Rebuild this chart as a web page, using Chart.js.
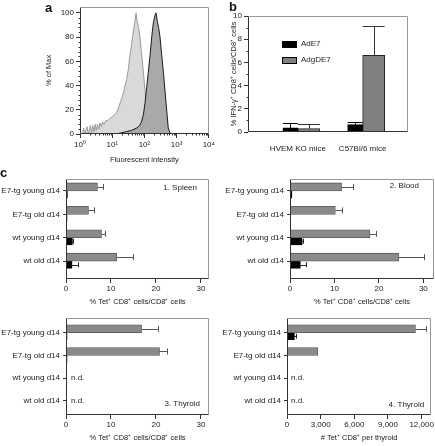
<!DOCTYPE html>
<html>
<head>
<meta charset="utf-8">
<script src="https://cdn.jsdelivr.net/npm/chart.js@4.4.1/dist/chart.umd.min.js"></script>
<style>
  html, body { margin: 0; padding: 0; background: #fff; }
  body { width: 435px; height: 446px; position: relative; overflow: hidden; font-family: "Liberation Sans", Arial, sans-serif; color: #222; }
  canvas { position: absolute; }
  .tag { position: absolute; font-weight: bold; font-size: 13px; line-height: 13px; color: #111; z-index: 2; }
  .key { position: absolute; font-size: 8px; line-height: 8px; display: flex; align-items: center; z-index: 2; }
  .key i { display: inline-block; width: 15px; height: 7px; margin-right: 4px; border: 1px solid #000; box-sizing: border-box; }
</style>
</head>
<body>
<canvas id="chartA" width="217" height="168" style="left:0;top:0"></canvas>
<canvas id="chartB" width="220" height="160" style="left:215px;top:0"></canvas>
<canvas id="chartC1" width="217" height="140" style="left:0;top:170px"></canvas>
<canvas id="chartC2" width="218" height="140" style="left:217px;top:170px"></canvas>
<canvas id="chartC3" width="217" height="136" style="left:0;top:310px"></canvas>
<canvas id="chartC4" width="218" height="136" style="left:217px;top:310px"></canvas>

<div class="tag" style="left:45px;top:1px">a</div>
<div class="tag" style="left:229px;top:0">b</div>
<div class="tag" style="left:0;top:166px">c</div>
<div class="key" style="left:282px;top:40px"><i style="background:#000"></i>AdE7</div>
<div class="key" style="left:282px;top:56px"><i style="background:#808080"></i>AdgDE7</div>

<script>
// a. histogram outlines (intensity, % of max)
const histLightX = [1.2, 1.3, 1.4, 1.65, 1.8, 2.1, 2.25, 2.5, 2.7, 3.0, 3.2, 3.5, 3.8, 4.2, 4.6, 5.0, 5.6, 6.3, 7.2, 8.5, 10, 11.7, 13.8, 15.8, 17.8, 19.5, 22.4, 25, 28, 32, 35, 40, 46, 50, 55, 59, 65, 72, 81, 93, 105, 123, 145, 170, 200, 240];
const histLightY = [0, 5, 0, 6, 0, 7, 1, 7, 2, 8, 3, 8, 4, 9, 6, 10, 8, 11, 11, 13, 14, 16, 18, 22, 26, 29, 34, 40, 45, 54, 64, 74, 86, 92, 100, 93, 89, 81, 67, 51, 35, 18, 9, 5, 2, 0];
const histDarkX = [8, 16, 28, 40, 58, 71, 81, 93, 105, 117, 132, 151, 170, 190, 214, 229, 251, 275, 302, 339, 389, 427, 468, 513, 550, 617, 708];
const histDarkY = [0, 0.5, 2, 3, 5, 7, 10, 16, 26, 38, 51, 66, 81, 92, 98, 100, 93, 88, 81, 67, 51, 38, 26, 14, 5, 1, 0];
const histTicks = [1, 10, 100, 1000, 10000];
const pctTicks = [0, 20, 40, 60, 80, 100];

// b. IFN-gamma+ CD8+ cells
const groupsB = ['HVEM KO mice', 'C57Bl/6 mice'];
const adE7 = [0.35, 0.63];
const adE7Err = [0.42, 0.24];
const adgDE7 = [0.29, 6.6];
const adgDE7Err = [0.42, 2.55];

// c. Tet+ CD8+ cells
const groupsC = ['E7-tg young d14', 'E7-tg old d14', 'wt young d14', 'wt old d14'];
const spleenGray = [7.0, 5.0, 7.9, 11.3];
const spleenGrayErr = [1.3, 1.2, 0.8, 3.7];
const spleenBlack = [0.3, 0.2, 1.4, 1.3];
const spleenBlackErr = [0, 0, 0.2, 1.4];
const bloodGray = [11.6, 10.2, 18.0, 24.5];
const bloodGrayErr = [2.6, 1.6, 1.4, 5.6];
const bloodBlack = [0.4, 0, 2.7, 2.3];
const bloodBlackErr = [0, 0, 0.2, 1.3];
const thyroidGray = [16.8, 20.8, null, null];
const thyroidGrayErr = [3.6, 1.6, 0, 0];
const thyroidBlack = [0.2, 0.2, null, null];
const thyroidCountGray = [11450, 2750, null, null];
const thyroidCountGrayErr = [950, 0, 0, 0];
const thyroidCountBlack = [650, 60, null, null];
const thyroidCountBlackErr = [120, 0, 0, 0];
const pctTicksC = [0, 10, 20, 30];
const countTicks = [0, 3000, 6000, 9000, 12000];

Chart.defaults.font = { family: '"Liberation Sans", Arial, sans-serif', size: 8 };
Chart.defaults.color = '#222';
Chart.defaults.animation = false;

const titleFont = { family: '"Liberation Sans", Arial, sans-serif', size: 7.5 };

// frame, error bars, minor ticks and notes
const framePlugin = {
  id: 'frame',
  afterDraw(chart, args, o) {
    const { ctx, chartArea: a, scales } = chart;
    const L = Math.round(a.left) + 0.5, R = Math.round(a.right) - 0.5;
    const T = Math.round(a.top) + 0.5, B = Math.round(a.bottom) - 0.5;
    ctx.save();
    ctx.lineWidth = 1;

    // error bars
    const horiz = chart.options.indexAxis === 'y';
    const vs = horiz ? scales.x : scales.y;
    chart.data.datasets.forEach((ds, i) => {
      if (!ds.errors) return;
      ctx.strokeStyle = ds.errColor || '#000';
      chart.getDatasetMeta(i).data.forEach((bar, j) => {
        const d = ds.data[j];
        const v = horiz ? d.x : d.y;
        const e = ds.errors[j];
        if (v == null || !e) return;
        const p = bar.getProps(['x', 'y', 'width', 'height'], true);
        const end = Math.round(vs.getPixelForValue(v + e)) + 0.5;
        ctx.beginPath();
        if (horiz) {
          const h = p.height / 2 - 1;
          ctx.moveTo(p.x, Math.round(p.y) + 0.5); ctx.lineTo(end, Math.round(p.y) + 0.5);
          ctx.moveTo(end, p.y - h); ctx.lineTo(end, p.y + h);
        } else {
          const w = p.width / 2;
          const cx = Math.round(p.x) + 0.5;
          ctx.moveTo(cx, p.y); ctx.lineTo(cx, end);
          ctx.moveTo(p.x - w, end); ctx.lineTo(p.x + w, end);
        }
        ctx.stroke();
      });
    });

    // box
    ctx.strokeStyle = '#999';
    ctx.beginPath(); ctx.moveTo(L, T); ctx.lineTo(R, T); ctx.lineTo(R, B); ctx.stroke();
    ctx.strokeStyle = '#333';
    ctx.beginPath(); ctx.moveTo(L, T); ctx.lineTo(L, B); ctx.lineTo(R, B); ctx.stroke();

    // minor ticks
    ctx.beginPath();
    (o.minorY || []).forEach(v => {
      const y = Math.round(scales.y.getPixelForValue(v)) + 0.5;
      ctx.moveTo(L - 2, y); ctx.lineTo(L, y);
    });
    (o.minorX || []).forEach(v => {
      const x = Math.round(scales.x.getPixelForValue(v)) + 0.5;
      ctx.moveTo(x, B); ctx.lineTo(x, B + 2);
    });
    ctx.stroke();

    // notes
    ctx.fillStyle = '#222';
    ctx.font = '8px "Liberation Sans", Arial, sans-serif';
    ctx.textBaseline = 'middle';
    (o.notes || []).forEach(n => {
      if (n.yv !== undefined) {
        ctx.textAlign = 'left';
        ctx.fillText(n.text, a.left + n.dx, scales.y.getPixelForValue(n.yv));
      } else {
        ctx.textAlign = 'right';
        ctx.fillText(n.text, a.right - n.dx, n.top ? a.top + n.dy : a.bottom - n.dy);
      }
    });
    ctx.restore();
  }
};
Chart.register(framePlugin);

// a. histogram
const logMinor = [];
for (let d = 1; d < 10000; d *= 10) for (let k = 2; k < 10; k++) logMinor.push(d * k);

new Chart(document.getElementById('chartA'), {
  type: 'line',
  data: {
    datasets: [
      { data: histDarkX.map((x, i) => ({ x, y: histDarkY[i] })), borderColor: '#1a1a1a', backgroundColor: '#a9a9a9', fill: 'origin', borderWidth: 1, pointRadius: 0, order: 0 },
      { data: histLightX.map((x, i) => ({ x, y: histLightY[i] })), borderColor: '#9a9a9a', backgroundColor: '#d9d9d9', fill: 'origin', borderWidth: 1, pointRadius: 0, order: 1 }
    ]
  },
  options: {
    responsive: false,
    layout: { padding: { left: 40, top: 6, right: 8, bottom: 0 } },
    plugins: { legend: { display: false }, tooltip: { enabled: false }, frame: { minorX: logMinor, minorY: [4, 8, 12, 16, 24, 28, 32, 36, 44, 48, 52, 56, 64, 68, 72, 76, 84, 88, 92, 96] } },
    scales: {
      x: {
        type: 'logarithmic', min: 1, max: 10000,
        afterBuildTicks: s => { s.ticks = histTicks.map(value => ({ value })); },
        ticks: { callback: v => '10' + '⁰¹²³⁴'[Math.round(Math.log10(v))], autoSkip: false, maxRotation: 0, padding: 2 },
        grid: { drawOnChartArea: false, tickLength: 4, color: '#333' },
        border: { display: false },
        title: { display: true, text: 'Fluorescent intensity', font: titleFont, padding: { top: 0, bottom: 4 } },
        afterFit: s => { s.height = 34; }
      },
      y: {
        min: 0, max: 105,
        afterBuildTicks: s => { s.ticks = pctTicks.map(value => ({ value })); },
        ticks: { padding: 2 },
        grid: { drawOnChartArea: false, tickLength: 4, color: '#333' },
        border: { display: false },
        title: { display: true, text: '% of Max', font: titleFont, padding: { top: 4, bottom: 0 } },
        afterFit: s => { s.width = 40; }
      }
    }
  }
});

// b. grouped bars
new Chart(document.getElementById('chartB'), {
  type: 'bar',
  data: {
    datasets: [
      { label: 'AdE7', data: adE7.map((y, i) => ({ x: i + 1, y })), errors: adE7Err, backgroundColor: '#000', borderColor: '#000', borderWidth: 1, barThickness: 15 },
      { label: 'AdgDE7', data: adgDE7.map((y, i) => ({ x: i + 1, y })), errors: adgDE7Err, errColor: '#333', backgroundColor: '#808080', borderColor: '#222', borderWidth: 1, barThickness: 22 }
    ]
  },
  options: {
    responsive: false,
    layout: { padding: { left: 10, top: 16, right: 27, bottom: 8 } },
    plugins: { legend: { display: false }, tooltip: { enabled: false }, frame: { minorY: [1, 3, 5, 7, 9] } },
    scales: {
      x: {
        type: 'linear', min: 0.23, max: 2.7, offset: false,
        afterBuildTicks: s => { s.ticks = groupsB.map((_, i) => ({ value: i + 1 })); },
        ticks: { callback: v => groupsB[v - 1] || '', autoSkip: false, maxRotation: 0, padding: 4 },
        grid: { display: false, offset: false },
        border: { display: false },
        afterFit: s => { s.height = 20; }
      },
      y: {
        min: 0, max: 10,
        ticks: { stepSize: 2, padding: 2 },
        grid: { drawOnChartArea: false, tickLength: 4, color: '#333' },
        border: { display: false },
        title: { display: true, text: '% IFN-γ⁺ CD8⁺ cells/CD8⁺ cells', font: titleFont, padding: { top: 4, bottom: 0 } },
        afterFit: s => { s.width = 23; }
      }
    }
  }
});

// c. horizontal bars
function tetChart(id, gray, grayErr, black, blackErr, cfg) {
  const rows = v => v.map((x, i) => ({ x, y: i + 1 }));
  return new Chart(document.getElementById(id), {
    type: 'bar',
    data: {
      datasets: [
        { data: rows(gray), errors: grayErr, errColor: '#555', backgroundColor: '#8a8a8a', borderColor: '#555', borderWidth: 0.8, barThickness: 8 },
        { data: rows(black), errors: blackErr, errColor: '#222', backgroundColor: '#000', borderColor: '#000', borderWidth: 0, barThickness: 7 }
      ]
    },
    options: {
      indexAxis: 'y',
      responsive: false,
      layout: { padding: { left: 0, top: cfg.top, right: cfg.right, bottom: 0 } },
      plugins: { legend: { display: false }, tooltip: { enabled: false }, frame: { notes: cfg.notes } },
      scales: {
        x: {
          min: 0, max: cfg.max,
          afterBuildTicks: s => { s.ticks = cfg.ticks.map(value => ({ value })); },
          ticks: { callback: v => v.toLocaleString('en-US'), autoSkip: false, maxRotation: 0, padding: 1 },
          grid: { drawOnChartArea: false, tickLength: 4, color: '#333' },
          border: { display: false },
          title: { display: true, text: cfg.title, font: titleFont, padding: { top: 0, bottom: 4 } },
          afterFit: s => { s.height = cfg.xh; }
        },
        y: {
          type: 'linear', reverse: true, min: cfg.ymin, max: cfg.ymax, offset: false,
          afterBuildTicks: s => { s.ticks = groupsC.map((_, i) => ({ value: i + 1 })); },
          ticks: { callback: v => groupsC[v - 1] || '', autoSkip: false, padding: 3 },
          grid: { drawOnChartArea: false, tickLength: 3, color: '#333', offset: false },
          border: { display: false },
          afterFit: s => { s.width = cfg.yw; }
        }
      }
    }
  });
}

const tetTitle = '% Tet⁺ CD8⁺ cells/CD8⁺ cells';

tetChart('chartC1', spleenGray, spleenGrayErr, spleenBlack, spleenBlackErr, {
  top: 9, right: 8, yw: 66, xh: 31, ymin: 0.49, ymax: 4.76, max: 31.8, ticks: pctTicksC, title: tetTitle,
  notes: [{ text: '1. Spleen', dx: 12, dy: 9, top: true }]
});
tetChart('chartC2', bloodGray, bloodGrayErr, bloodBlack, bloodBlackErr, {
  top: 9, right: 1, yw: 73, xh: 31, ymin: 0.49, ymax: 4.76, max: 32.4, ticks: pctTicksC, title: tetTitle,
  notes: [{ text: '2. Blood', dx: 15, dy: 7, top: true }]
});
tetChart('chartC3', thyroidGray, thyroidGrayErr, thyroidBlack, [0, 0, 0, 0], {
  top: 8, right: 8, yw: 66, xh: 31, ymin: 0.35, ymax: 4.62, max: 31.8, ticks: pctTicksC, title: tetTitle,
  notes: [{ text: 'n.d.', xv: 0, yv: 3, dx: 5 }, { text: 'n.d.', xv: 0, yv: 4, dx: 5 }, { text: '3. Thyroid', dx: 9, dy: 11 }]
});
tetChart('chartC4', thyroidCountGray, thyroidCountGrayErr, thyroidCountBlack, thyroidCountBlackErr, {
  top: 8, right: 2, yw: 70, xh: 31, ymin: 0.35, ymax: 4.62, max: 12850, ticks: countTicks, title: '# Tet⁺ CD8⁺ per thyroid',
  notes: [{ text: 'n.d.', xv: 0, yv: 3, dx: 4 }, { text: 'n.d.', xv: 0, yv: 4, dx: 4 }, { text: '4. Thyroid', dx: 7, dy: 10 }]
});
</script>
</body>
</html>
